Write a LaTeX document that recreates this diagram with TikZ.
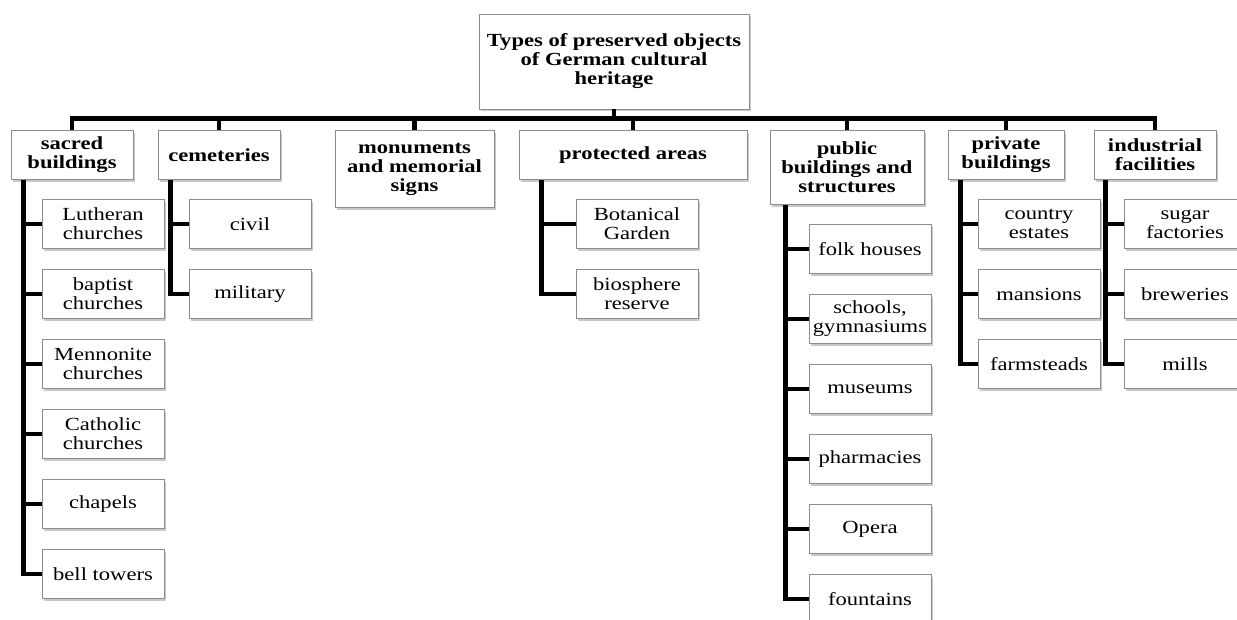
\documentclass[tikz,border=0pt]{standalone}
\usepackage{fontspec}
\setmainfont{Liberation Serif}[FakeStretch=1.22]
\usetikzlibrary{shadows}

\begin{document}
\begin{tikzpicture}[x=1pt,y=-1pt]
\tikzstyle{box}=[rectangle,draw=black!45,line width=0.8pt,fill=white,inner sep=2pt,align=center,drop shadow={shadow xshift=1.5pt,shadow yshift=-2.5pt,fill=black!30,opacity=0.7},font=\fontsize{18.5}{19}\selectfont]
\tikzstyle{head}=[box,anchor=north,minimum height=49pt,font=\bfseries\fontsize{18.5}{19}\selectfont]
\tikzstyle{item}=[box,minimum width=122pt,minimum height=49pt]
\tikzstyle{conn}=[line width=4.5pt,black]
\useasboundingbox (0,0) rectangle (1237,620);

\node[box,minimum width=270pt,minimum height=95pt,font=\bfseries\fontsize{18.5}{19}\selectfont](root) at (614,61.5) {Types of preserved objects\\of German cultural\\heritage};

\node[head,minimum width=122pt](sacred) at (72,130) {sacred\\buildings};
\node[head,minimum width=122pt](cemet) at (219,130) {cemeteries};
\node[head,minimum width=159pt,minimum height=77pt](monum) at (414.5,130) {monuments\\and memorial\\signs};
\node[head,minimum width=228pt](protect) at (633,130) {protected areas};
\node[head,minimum width=154pt,minimum height=74pt](public) at (847,130) {public\\buildings and\\structures};
\node[head,minimum width=116pt](private) at (1006,130) {private\\buildings};
\node[head,minimum width=122pt](indust) at (1155,130) {industrial\\facilities};

\node[item](luth) at (103,224) {Lutheran\\churches};
\node[item](bapt) at (103,294) {baptist\\churches};
\node[item](menn) at (103,364) {Mennonite\\churches};
\node[item](cath) at (103,434) {Catholic\\churches};
\node[item](chap) at (103,504) {chapels};
\node[item](bell) at (103,574) {bell towers};

\node[item](civil) at (250,224) {civil};
\node[item](milit) at (250,294) {military};

\node[item](botan) at (637,224) {Botanical\\Garden};
\node[item](biosph) at (637,294) {biosphere\\reserve};

\node[item](folk) at (870,249) {folk houses};
\node[item](school) at (870,319) {schools,\\gymnasiums};
\node[item](museum) at (870,389) {museums};
\node[item](pharm) at (870,459) {pharmacies};
\node[item](opera) at (870,529) {Opera};
\node[item](fount) at (870,599) {fountains};

\node[item](estate) at (1039,224) {country\\estates};
\node[item](mans) at (1039,294) {mansions};
\node[item](farm) at (1039,364) {farmsteads};

\node[item](sugar) at (1185,224) {sugar\\factories};
\node[item](brew) at (1185,294) {breweries};
\node[item](mill) at (1185,364) {mills};

% bus under the title
\draw[conn] (root.south) -- ++(0,9) -| (sacred.north);
\draw[conn] (root.south) -- ++(0,9) -| (cemet.north);
\draw[conn] (root.south) -- ++(0,9) -| (monum.north);
\draw[conn] (root.south) -- ++(0,9) -| (protect.north);
\draw[conn] (root.south) -- ++(0,9) -| (public.north);
\draw[conn] (root.south) -- ++(0,9) -| (private.north);
\draw[conn] (root.south) -- ++(0,9) -| (indust.north);

\draw[conn] ([xshift=13pt]sacred.south west) |- (luth.west) ([xshift=13pt]sacred.south west) |- (bapt.west)
  ([xshift=13pt]sacred.south west) |- (menn.west) ([xshift=13pt]sacred.south west) |- (cath.west)
  ([xshift=13pt]sacred.south west) |- (chap.west) ([xshift=13pt]sacred.south west) |- (bell.west);
\draw[conn] ([xshift=13pt]cemet.south west) |- (civil.west) ([xshift=13pt]cemet.south west) |- (milit.west);
\draw[conn] ([xshift=23pt]protect.south west) |- (botan.west) ([xshift=23pt]protect.south west) |- (biosph.west);
\draw[conn] ([xshift=16pt]public.south west) |- (folk.west) ([xshift=16pt]public.south west) |- (school.west)
  ([xshift=16pt]public.south west) |- (museum.west) ([xshift=16pt]public.south west) |- (pharm.west)
  ([xshift=16pt]public.south west) |- (opera.west) ([xshift=16pt]public.south west) |- (fount.west);
\draw[conn] ([xshift=13pt]private.south west) |- (estate.west) ([xshift=13pt]private.south west) |- (mans.west)
  ([xshift=13pt]private.south west) |- (farm.west);
\draw[conn] ([xshift=12pt]indust.south west) |- (sugar.west) ([xshift=12pt]indust.south west) |- (brew.west)
  ([xshift=12pt]indust.south west) |- (mill.west);

\end{tikzpicture}
\end{document}
